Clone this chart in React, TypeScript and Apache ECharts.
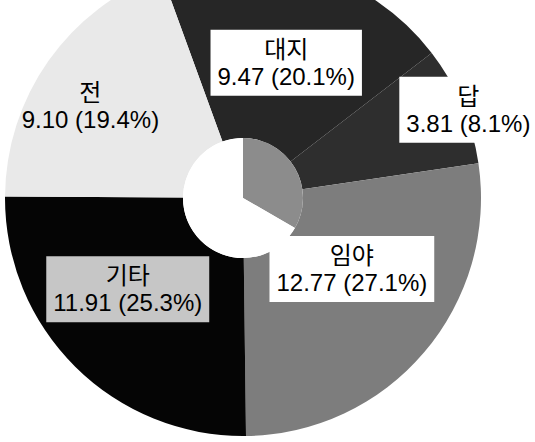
import React, { useEffect, useRef } from "react";
import * as echarts from "echarts";

// Data
const categories = ["대지", "답", "임야", "기타", "전"];
const values = [9.47, 3.81, 12.77, 11.91, 9.1];

// Styles
const sliceColors = ["#262626", "#2e2e2e", "#7d7d7d", "#050505", "#e9e9e9"];
const labelBg = ["#ffffff", "#ffffff", "#ffffff", "#c6c6c6", "transparent"];
// label placement relative to slice mid-angle (radius px, angle shift deg)
const labelRadius = [142, 242, 130, 147, 178];
const labelAngleShift = [1.5, 1.6, -7.3, 6.8, -4.2];

const CX = 243;
const CY = 198;
const R_OUT = 238;
const R_IN = 60;
const START_COMPASS = -20; // degrees clockwise from 12 o'clock

export default function App() {
  const ref = useRef<HTMLDivElement>(null);
  useEffect(() => {
    if (!ref.current) return;
    const chart = echarts.init(ref.current, undefined, { renderer: "svg" });
    const total = values.reduce((a, b) => a + b, 0);
    let acc = 0;
    const mids = values.map((v) => {
      const m = START_COMPASS + ((acc + v / 2) / total) * 360;
      acc += v;
      return m;
    });
    chart.setOption({
      animation: false,
      backgroundColor: "#ffffff",
      series: [
        {
          type: "pie",
          center: [CX, CY],
          radius: [R_IN, R_OUT],
          startAngle: 90 - START_COMPASS,
          clockwise: true,
          percentPrecision: 1,
          avoidLabelOverlap: false,
          labelLine: { show: false },
          itemStyle: { borderWidth: 0 },
          emphasis: { disabled: true },
          label: {
            show: true,
            position: "inside",
            color: "#000",
            fontSize: 24,
            lineHeight: 27,
            fontFamily: "'Liberation Sans', 'Noto Sans CJK KR', sans-serif",
            padding: [6, 7],
            formatter: (p: any) =>
              `${p.name}\n${Number(p.value).toFixed(2)} (${p.percent}%)`,
          },
          labelLayout: (params: any) => {
            const i = params.dataIndex;
            const th = ((mids[i] + labelAngleShift[i]) * Math.PI) / 180;
            const r = labelRadius[i];
            return {
              x: CX + r * Math.sin(th),
              y: CY - r * Math.cos(th),
              align: "center",
              verticalAlign: "middle",
            };
          },
          data: categories.map((name, i) => ({
            name,
            value: values[i],
            itemStyle: { color: sliceColors[i] },
            label: { backgroundColor: labelBg[i] },
          })),
        },
        {
          type: "pie",
          center: [CX, CY],
          radius: [0, R_IN],
          startAngle: 90,
          clockwise: true,
          silent: true,
          label: { show: false },
          labelLine: { show: false },
          emphasis: { disabled: true },
          data: [
            { value: 1, itemStyle: { color: "#8c8c8c" } },
            { value: 2, itemStyle: { color: "#ffffff" } },
          ],
        },
      ],
    });
    return () => chart.dispose();
  }, []);
  return (
    <div
      ref={ref}
      style={{ position: "fixed", left: 0, top: 0, width: 535, height: 442 }}
    />
  );
}
